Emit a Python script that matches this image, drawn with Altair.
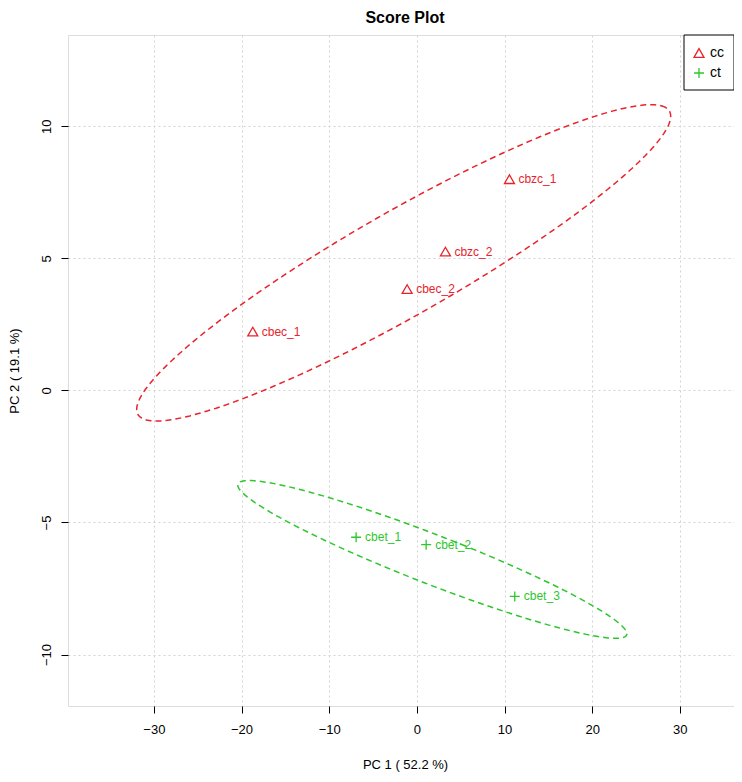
import altair as alt
import numpy as np
import pandas as pd

# ---- data ----
names = ["cbec_1", "cbec_2", "cbzc_1", "cbzc_2", "cbet_1", "cbet_2", "cbet_3"]
groups = ["cc", "cc", "cc", "cc", "ct", "ct", "ct"]
pc1 = [-18.72, -1.11, 10.56, 3.26, -6.93, 1.06, 11.17]
pc2 = [2.23, 3.84, 8.00, 5.26, -5.56, -5.84, -7.80]

group_names = ["cc", "ct"]
group_colors = ["#E8232B", "#2DC72D"]
group_shapes = ["triangle-up", "M-1,0L1,0M0,-1L0,1"]
x_ticks = [-30, -20, -10, 0, 10, 20, 30]
y_ticks = [-10, -5, 0, 5, 10]
x_title = "PC 1 ( 52.2 %)"
y_title = "PC 2 ( 19.1 %)"
chart_title = "Score Plot"

pts = pd.DataFrame({"name": names, "group": groups, "pc1": pc1, "pc2": pc2})


# 95% data ellipse of each group (same construction as R's ellipse::ellipse)
def data_ellipse(xs, ys, n=120):
    x = np.asarray(xs, float)
    y = np.asarray(ys, float)
    c = np.cov(x, y)
    sx, sy = np.sqrt(c[0, 0]), np.sqrt(c[1, 1])
    r = np.clip(c[0, 1] / (sx * sy), -1, 1)
    d = np.arccos(r)
    t = np.sqrt(5.991464547107979)  # sqrt(qchisq(0.95, 2))
    a = np.linspace(0, 2 * np.pi, n)
    return t * sx * np.cos(a + d / 2) + x.mean(), t * sy * np.cos(a - d / 2) + y.mean()


rows = []
for g in group_names:
    sub = pts[pts.group == g]
    ex, ey = data_ellipse(sub.pc1, sub.pc2)
    for i, (a, b) in enumerate(zip(ex, ey)):
        rows.append({"group": g, "ex": a, "ey": b, "ord": i})
ell = pd.DataFrame(rows)

W, H = 666, 671
x_dom = [-39.8, 36.18]
y_dom = [-11.95, 13.46]
FONT = "Liberation Sans"

color_scale = alt.Scale(domain=group_names, range=group_colors)
shape_scale = alt.Scale(domain=group_names, range=group_shapes)

xs = alt.Scale(domain=x_dom, nice=False, zero=False)
ys = alt.Scale(domain=y_dom, nice=False, zero=False)

x_axis = alt.Axis(
    values=x_ticks, title=x_title, grid=True, domain=False, ticks=True, tickSize=7,
    tickColor="black", tickWidth=1, labelFontSize=13, labelColor="black", labelFont=FONT,
    labelBaseline="alphabetic", labelPadding=20, labelFlush=False, labelOverlap=False,
    titleFont=FONT, titleFontSize=13, titleFontWeight="normal", titleColor="black",
    titleX=337, titleY=58, titleBaseline="middle", titleAlign="center",
    gridColor="#D3D3D3", gridDash=[2, 3], gridWidth=1,
)
y_axis = alt.Axis(
    values=y_ticks, title=y_title, grid=True, domain=False, ticks=True, tickSize=7,
    tickColor="black", tickWidth=1, labelFontSize=13, labelColor="black", labelFont=FONT,
    labelAngle=270, labelAlign="center", labelBaseline="alphabetic", labelPadding=11,
    labelFlush=False, labelOverlap=False,
    titleFont=FONT, titleFontSize=13, titleFontWeight="normal", titleColor="black",
    titleAngle=270, titleX=-54, titleY=335.5, titleBaseline="middle", titleAlign="center",
    gridColor="#D3D3D3", gridDash=[2, 3], gridWidth=1,
)

ellipses = alt.Chart(ell).mark_line(strokeWidth=1.5, strokeDash=[6, 4]).encode(
    x=alt.X("ex:Q", scale=xs, axis=x_axis),
    y=alt.Y("ey:Q", scale=ys, axis=y_axis),
    stroke=alt.Stroke("group:N", scale=color_scale, legend=None),
    detail="group:N",
    order="ord:Q",
)

points = alt.Chart(pts).mark_point(filled=False, size=100, strokeWidth=1.3, opacity=1).encode(
    x=alt.X("pc1:Q", scale=xs),
    y=alt.Y("pc2:Q", scale=ys),
    color=alt.Color("group:N", scale=color_scale, legend=None),
    shape=alt.Shape("group:N", scale=shape_scale, legend=None),
)

labels = alt.Chart(pts).mark_text(align="left", baseline="middle", dx=9, fontSize=12, font=FONT).encode(
    x=alt.X("pc1:Q", scale=xs),
    y=alt.Y("pc2:Q", scale=ys),
    text="name:N",
    fill=alt.Fill("group:N", scale=color_scale, legend=None),
)

title_df = pd.DataFrame({"t": [chart_title]})
title = alt.Chart(title_df).mark_text(
    fontSize=16, fontWeight="bold", font=FONT, color="black", align="center", baseline="middle"
).encode(x=alt.value(337), y=alt.value(-17), text="t:N")

# legend (top-right, inside the frame)
legend_layers = [
    alt.Chart(pd.DataFrame({"a": [0]})).mark_rect(fill="white", stroke="black", strokeWidth=1).encode(
        x=alt.value(616), x2=alt.value(666), y=alt.value(0), y2=alt.value(55)
    )
]
for i, g in enumerate(group_names):
    ldf = pd.DataFrame({"label": [g]})
    legend_layers.append(
        alt.Chart(ldf).mark_point(
            shape=group_shapes[i], size=100, filled=False, stroke=group_colors[i],
            strokeWidth=1.3, opacity=1,
        ).encode(x=alt.value(631), y=alt.value(18 + 20 * i))
    )
    legend_layers.append(
        alt.Chart(ldf).mark_text(
            align="left", baseline="middle", fontSize=14, font=FONT, color="black"
        ).encode(x=alt.value(642), y=alt.value(18 + 20 * i), text="label:N")
    )

chart = (
    alt.layer(ellipses, points, labels, title, *legend_layers)
    .properties(
        width=W,
        height=H,
        autosize=alt.AutoSizeParams(type="none"),
        padding={"left": 60, "top": 27, "right": 0, "bottom": 68},
    )
    .configure_view(stroke="black", strokeWidth=1.3)
    .configure(background="white")
)

chart.save("out.html", embed_options={"renderer": "svg", "actions": False})
